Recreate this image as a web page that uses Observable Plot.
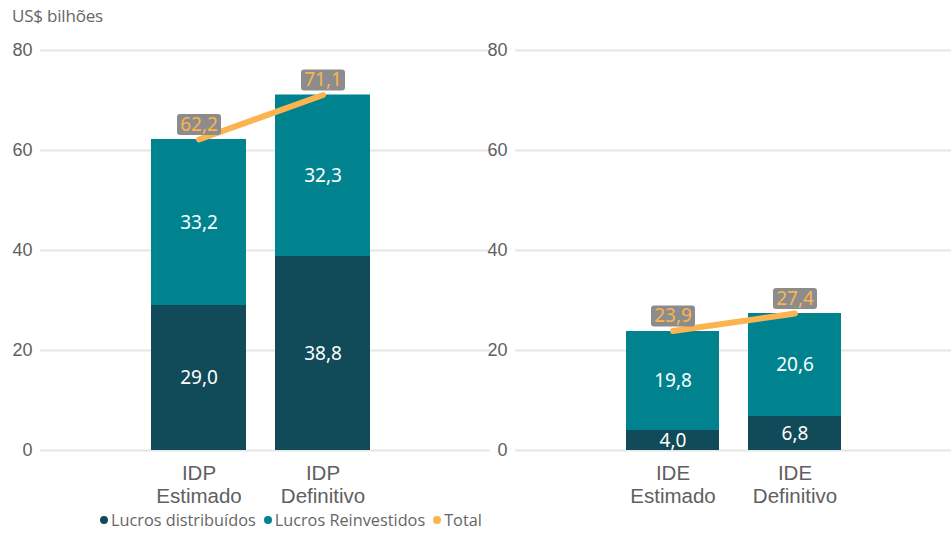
<!DOCTYPE html>
<html>
<head>
<meta charset="utf-8">
<script src="https://cdn.jsdelivr.net/npm/d3@7"></script>
<script src="https://cdn.jsdelivr.net/npm/@observablehq/plot@0.6"></script>
<style>
  html, body { margin: 0; padding: 0; background: #fff; }
  #wrap { position: relative; width: 951px; height: 535px; overflow: hidden; }
  #title { position: absolute; left: 12px; top: 4px; font: 17px "Open Sans", sans-serif; color: #666; letter-spacing: -0.2px; }
  #left { position: absolute; left: 0; top: 30px; }
  #right { position: absolute; left: 490px; top: 30px; }
  #legend { position: absolute; left: 100px; top: 509px; font: 16.3px "Open Sans", sans-serif; color: #666; display: flex; gap: 8px; align-items: center; }
  #legend .item { display: flex; align-items: center; gap: 3px; }
  #legend .dot { width: 8px; height: 8px; border-radius: 50%; display: inline-block; }
  svg { overflow: visible; }
</style>
</head>
<body>
<div id="wrap">
  <div id="title">US$ bilhões</div>
  <div id="left"></div>
  <div id="right"></div>
  <div id="legend"></div>
</div>
<script>
// ---- Data ----
const categories = ["IDP Estimado", "IDP Definitivo", "IDE Estimado", "IDE Definitivo"];
const panels = ["IDP", "IDP", "IDE", "IDE"];
const lucrosDistribuidos = [29.0, 38.8, 4.0, 6.8];
const lucrosReinvestidos = [33.2, 32.3, 19.8, 20.6];
const totals = [62.2, 71.1, 23.9, 27.4];
const seriesNames = ["Lucros distribuídos", "Lucros Reinvestidos", "Total"];
const seriesColors = ["#114a58", "#00838f", "#fbb44f"];
const yTicks = [0, 20, 40, 60, 80];

// ---- Derived tables ----
const fmt = v => d3.format(".1f")(v).replace(".", ",");
const rows = [];
categories.forEach((c, i) => {
  rows.push({cat: c, panel: panels[i], series: seriesNames[0], value: lucrosDistribuidos[i], mid: lucrosDistribuidos[i] / 2});
  rows.push({cat: c, panel: panels[i], series: seriesNames[1], value: lucrosReinvestidos[i], mid: lucrosDistribuidos[i] + lucrosReinvestidos[i] / 2});
});
const totalRows = categories.map((c, i) => ({cat: c, panel: panels[i], total: totals[i]}));

// rounded label box symbol
const labelBox = {
  draw(ctx) {
    const w = 44, h = 21, r = 3, x = -w / 2, y = -h / 2;
    ctx.moveTo(x + r, y);
    ctx.lineTo(x + w - r, y);
    ctx.arcTo(x + w, y, x + w, y + r, r);
    ctx.lineTo(x + w, y + h - r);
    ctx.arcTo(x + w, y + h, x + w - r, y + h, r);
    ctx.lineTo(x + r, y + h);
    ctx.arcTo(x, y + h, x, y + h - r, r);
    ctx.lineTo(x, y + r);
    ctx.arcTo(x, y, x + r, y, r);
    ctx.closePath();
  }
};

function makePanel(p, width, marginLeft, range) {
  const cats = categories.filter((c, i) => panels[i] === p);
  const r = rows.filter(d => d.panel === p);
  const t = totalRows.filter(d => d.panel === p);
  return Plot.plot({
    width, height: 480,
    marginLeft, marginRight: 0, marginTop: 20, marginBottom: 60,
    style: {fontFamily: "'Liberation Sans', Arial, sans-serif", background: "transparent", overflow: "visible"},
    x: {domain: cats, range, paddingInner: 0.234, paddingOuter: 0},
    y: {domain: [0, 80]},
    color: {domain: seriesNames, range: seriesColors},
    marks: [
      Plot.gridY(yTicks, {stroke: "#e6e6e6", strokeOpacity: 1, strokeWidth: 2}),
      Plot.axisY(yTicks, {tickSize: 0, tickPadding: 8, fontSize: 18, fill: "#606060", label: null}),
      Plot.axisX({tickSize: 0, tickPadding: 13, fontSize: 20.5, fill: "#606060", lineHeight: 1.12, label: null,
                  tickFormat: d => d.replace(" ", "\n")}),
      Plot.barY(r, Plot.stackY({x: "cat", y: "value", fill: "series", order: seriesNames})),
      Plot.text(r, {x: "cat", y: "mid", text: d => fmt(d.value), fill: "white", fontSize: 19,
                    fontFamily: "'Noto Sans', 'Open Sans', sans-serif", letterSpacing: "-0.8px"}),
      Plot.line(t, {x: "cat", y: "total", stroke: seriesColors[2], strokeWidth: 6, strokeLinecap: "round"}),
      Plot.dot(t, {x: "cat", y: "total", dy: -15, symbol: labelBox, r: 10, fill: "#8c8c8c", stroke: "none"}),
      Plot.text(t, {x: "cat", y: "total", dy: -15, text: d => fmt(d.total), fill: seriesColors[2], fontSize: 19,
                    fontFamily: "'Noto Sans', 'Open Sans', sans-serif", letterSpacing: "-0.8px"})
    ]
  });
}

document.getElementById("left").appendChild(makePanel("IDP", 490, 40, [151, 370]));
document.getElementById("right").appendChild(makePanel("IDE", 461, 25, [135, 352]));

// legend
const legend = document.getElementById("legend");
seriesNames.forEach((s, i) => {
  const item = document.createElement("span");
  item.className = "item";
  const dot = document.createElement("span");
  dot.className = "dot";
  dot.style.background = seriesColors[i];
  const lab = document.createElement("span");
  lab.textContent = s;
  item.appendChild(dot);
  item.appendChild(lab);
  legend.appendChild(item);
});
</script>
</body>
</html>
